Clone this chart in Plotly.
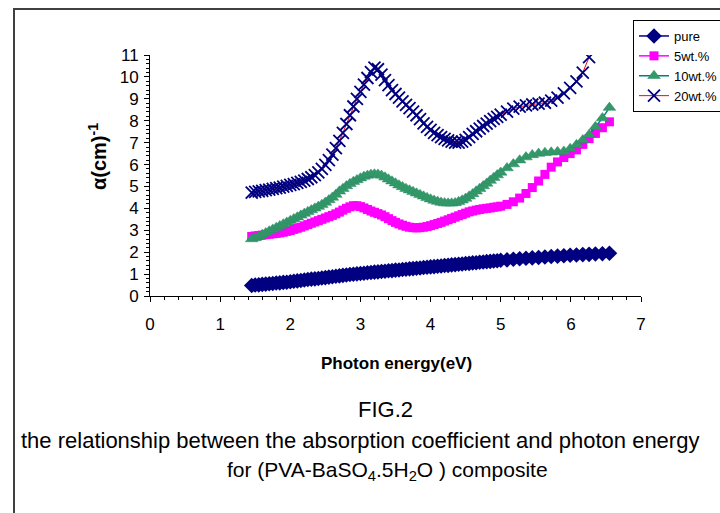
import plotly.graph_objects as go

# ---------------- data ----------------
energy = [
    1.45, 1.50, 1.55, 1.60, 1.65, 1.70, 1.75, 1.80, 1.85, 1.90,
    1.95, 2.00, 2.05, 2.10, 2.15, 2.20, 2.25, 2.30, 2.35, 2.40,
    2.45, 2.50, 2.55, 2.60, 2.65, 2.70, 2.75, 2.80, 2.85, 2.90,
    2.95, 3.00, 3.05, 3.10, 3.15, 3.20, 3.25, 3.30, 3.35, 3.40,
    3.45, 3.50, 3.55, 3.60, 3.65, 3.70, 3.75, 3.80, 3.85, 3.90,
    3.95, 4.00, 4.05, 4.10, 4.15, 4.20, 4.25, 4.30, 4.35, 4.40,
    4.45, 4.50, 4.55, 4.60, 4.65, 4.70, 4.75, 4.80, 4.85, 4.90,
    4.95, 5.00, 5.09, 5.18, 5.27, 5.36, 5.45, 5.54, 5.63, 5.72,
    5.81, 5.90, 5.99, 6.08, 6.17, 6.26, 6.35, 6.45, 6.55,
]

energy_20 = [
    1.45, 1.50, 1.55, 1.60, 1.65, 1.70, 1.75, 1.80, 1.85, 1.90,
    1.95, 2.00, 2.05, 2.10, 2.15, 2.20, 2.25, 2.30, 2.35, 2.40,
    2.45, 2.50, 2.55, 2.60, 2.65, 2.70, 2.75, 2.80, 2.85, 2.90,
    2.95, 3.00, 3.05, 3.10, 3.15, 3.20, 3.25, 3.30, 3.35, 3.40,
    3.45, 3.50, 3.55, 3.60, 3.65, 3.70, 3.75, 3.80, 3.85, 3.90,
    3.95, 4.00, 4.05, 4.10, 4.15, 4.20, 4.25, 4.30, 4.35, 4.40,
    4.45, 4.50, 4.55, 4.60, 4.65, 4.70, 4.75, 4.80, 4.85, 4.90,
    4.95, 5.00, 5.09, 5.18, 5.27, 5.36, 5.45, 5.54, 5.63, 5.72,
    5.81, 5.90, 5.99, 6.08, 6.17, 6.26,
]

alpha_pure = [
    0.48, 0.50, 0.51, 0.53, 0.54, 0.56, 0.57, 0.59, 0.60, 0.62,
    0.63, 0.65, 0.67, 0.69, 0.71, 0.73, 0.75, 0.77, 0.78, 0.80,
    0.82, 0.84, 0.86, 0.88, 0.90, 0.92, 0.94, 0.96, 0.98, 0.99,
    1.01, 1.03, 1.04, 1.06, 1.07, 1.09, 1.10, 1.12, 1.13, 1.15,
    1.16, 1.18, 1.19, 1.21, 1.22, 1.24, 1.25, 1.27, 1.28, 1.30,
    1.31, 1.33, 1.34, 1.36, 1.37, 1.39, 1.40, 1.42, 1.43, 1.45,
    1.46, 1.48, 1.49, 1.51, 1.52, 1.54, 1.55, 1.57, 1.58, 1.60,
    1.61, 1.63, 1.65, 1.68, 1.70, 1.72, 1.74, 1.76, 1.78, 1.80,
    1.82, 1.84, 1.86, 1.87, 1.89, 1.90, 1.92, 1.93, 1.95,
]

alpha_5wt = [
    2.72, 2.74, 2.76, 2.78, 2.80, 2.82, 2.84, 2.86, 2.88, 2.91,
    2.95, 2.99, 3.04, 3.09, 3.14, 3.20, 3.26, 3.32, 3.38, 3.44,
    3.50, 3.56, 3.62, 3.68, 3.75, 3.83, 3.92, 4.00, 4.07, 4.12,
    4.12, 4.08, 4.02, 3.95, 3.88, 3.82, 3.76, 3.70, 3.62, 3.53,
    3.44, 3.36, 3.29, 3.23, 3.18, 3.14, 3.12, 3.11, 3.12, 3.14,
    3.17, 3.21, 3.26, 3.31, 3.36, 3.42, 3.48, 3.54, 3.60, 3.66,
    3.72, 3.78, 3.84, 3.88, 3.92, 3.95, 3.98, 4.00, 4.02, 4.05,
    4.07, 4.10, 4.18, 4.30, 4.47, 4.68, 4.95, 5.25, 5.55, 5.88,
    6.12, 6.32, 6.50, 6.67, 6.92, 7.18, 7.42, 7.68, 7.95,
]

alpha_10wt = [
    2.60, 2.65, 2.72, 2.80, 2.88, 2.96, 3.04, 3.12, 3.20, 3.28,
    3.36, 3.44, 3.52, 3.60, 3.68, 3.76, 3.84, 3.92, 4.00, 4.08,
    4.17, 4.27, 4.38, 4.50, 4.63, 4.78, 4.90, 5.02, 5.12, 5.22,
    5.30, 5.38, 5.45, 5.50, 5.54, 5.56, 5.55, 5.50, 5.42, 5.33,
    5.24, 5.15, 5.06, 4.98, 4.90, 4.83, 4.76, 4.69, 4.62, 4.55,
    4.48, 4.42, 4.36, 4.31, 4.27, 4.24, 4.23, 4.23, 4.25, 4.30,
    4.37, 4.45, 4.55, 4.66, 4.78, 4.90, 5.02, 5.14, 5.27, 5.40,
    5.52, 5.64, 5.84, 6.02, 6.20, 6.34, 6.44, 6.50, 6.54, 6.56,
    6.58, 6.60, 6.72, 6.90, 7.12, 7.36, 7.72, 8.12, 8.60,
]

alpha_20wt = [
    4.72, 4.75, 4.78, 4.80, 4.83, 4.86, 4.89, 4.92, 4.95, 4.99,
    5.03, 5.07, 5.11, 5.16, 5.21, 5.27, 5.34, 5.42, 5.52, 5.64,
    5.80, 5.98, 6.20, 6.45, 6.75, 7.08, 7.45, 7.85, 8.25, 8.65,
    9.00, 9.32, 9.65, 9.95, 10.22, 10.42, 10.35, 10.10, 9.85, 9.62,
    9.40, 9.22, 9.05, 8.88, 8.72, 8.58, 8.42, 8.25, 8.07, 7.88,
    7.72, 7.58, 7.45, 7.34, 7.25, 7.17, 7.10, 7.05, 7.00, 7.00,
    7.05, 7.13, 7.25, 7.40, 7.52, 7.64, 7.76, 7.87, 7.98, 8.08,
    8.18, 8.28, 8.42, 8.55, 8.64, 8.70, 8.74, 8.78, 8.82, 8.92,
    9.05, 9.25, 9.50, 9.80, 10.20, 10.90,
]

series_names = ["pure", "5wt.%", "10wt.%", "20wt.%"]
x_ticks = [0, 1, 2, 3, 4, 5, 6, 7]
y_ticks = list(range(0, 12))

# ---------------- layout geometry (pixels) ----------------
W, H = 720, 513
L, R, T, B = 150, 641, 55, 296


def px_x(p):
    return (p - L) / (R - L)


def px_y(p):
    return (B - p) / (B - T)


FONT = "Liberation Sans, Arial, sans-serif"

fig = go.Figure()

fig.add_trace(go.Scatter(
    x=energy, y=alpha_pure, name=series_names[0], mode="lines+markers",
    line=dict(color="#000080", width=1.5),
    marker=dict(symbol="diamond", size=12, color="#000080",
                line=dict(color="#000080", width=0)),
))
fig.add_trace(go.Scatter(
    x=energy, y=alpha_5wt, name=series_names[1], mode="lines+markers",
    line=dict(color="#FF00FF", width=1.5),
    marker=dict(symbol="square", size=9, color="#FF00FF",
                line=dict(color="#FF00FF", width=0)),
))
fig.add_trace(go.Scatter(
    x=energy, y=alpha_10wt, name=series_names[2], mode="lines+markers",
    line=dict(color="#008080", width=1.5),
    marker=dict(symbol="triangle-up", size=11, color="#339966",
                line=dict(color="#2E8B6E", width=0.5)),
))
fig.add_trace(go.Scatter(
    x=energy_20, y=alpha_20wt, name=series_names[3], mode="lines+markers",
    line=dict(color="#FF0000", width=1),
    marker=dict(symbol="x-thin", size=12, color="#000080",
                line=dict(color="#000080", width=1.8)),
))

axis_common = dict(
    showgrid=False, zeroline=False, showline=True, linecolor="black",
    linewidth=1, ticks="outside", ticklen=5, tickwidth=1, tickcolor="black",
    tickfont=dict(family=FONT, size=17, color="black"),
    mirror=False,
)

fig.update_xaxes(
    range=[0, 7], tickmode="array", tickvals=x_ticks,
    ticktext=[str(v) for v in x_ticks],
    minor=dict(ticks="outside", dtick=0.2, tick0=0, ticklen=3,
               tickcolor="black", tickwidth=1),
    ticklabelstandoff=8,
    **axis_common,
)
fig.update_yaxes(
    range=[0, 11], tickmode="array", tickvals=y_ticks,
    ticktext=[str(v) for v in y_ticks],
    minor=dict(ticks="outside", dtick=0.2, tick0=0, ticklen=3,
               tickcolor="black", tickwidth=1),
    ticklabelstandoff=2,
    **axis_common,
)

annotations = [
    dict(text="<b>Photon energy(eV)</b>", x=px_x(396), y=px_y(363),
         font=dict(family=FONT, size=17, color="black")),
    dict(text="<b>α(cm)<sup>-1</sup></b>", x=px_x(97), y=px_y(157),
         textangle=-90, font=dict(family=FONT, size=20, color="black")),
    dict(text="FIG.2", x=px_x(385), y=px_y(409),
         font=dict(family=FONT, size=22, color="black")),
    dict(text="the relationship between the absorption coefficient and photon energy",
         x=px_x(360), y=px_y(440),
         font=dict(family=FONT, size=22, color="black")),
    dict(text="for (PVA-BaSO<sub>4</sub>.5H<sub>2</sub>O ) composite",
         x=px_x(387), y=px_y(471),
         font=dict(family=FONT, size=21, color="black")),
]
for a in annotations:
    a.update(xref="paper", yref="paper", showarrow=False,
             xanchor="center", yanchor="middle")

fig.update_layout(
    width=W, height=H,
    margin=dict(l=L, r=W - R, t=T, b=H - B, pad=0, autoexpand=False),
    paper_bgcolor="white", plot_bgcolor="white",
    showlegend=True,
    legend=dict(
        x=px_x(633), y=px_y(20), xanchor="left", yanchor="top",
        bgcolor="white", bordercolor="black", borderwidth=1,
        font=dict(family=FONT, size=13, color="black"),
        itemwidth=30, tracegroupgap=0,
    ),
    annotations=annotations,
    shapes=[dict(type="rect", xref="paper", yref="paper",
                 x0=px_x(14), x1=px_x(740), y0=px_y(540), y1=px_y(9),
                 line=dict(color="#404040", width=2), layer="below")],
)

fig.write_html("out.html")
